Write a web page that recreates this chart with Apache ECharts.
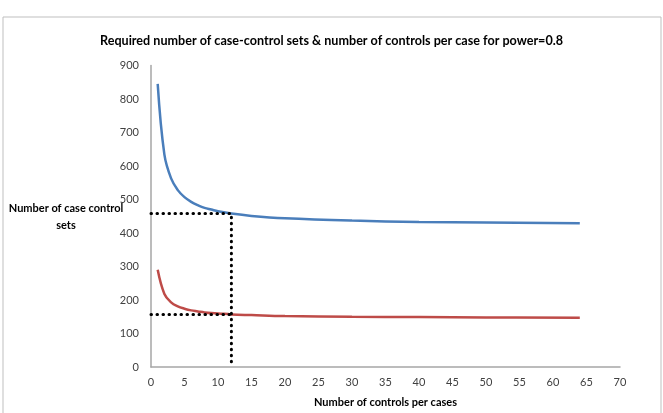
<!DOCTYPE html>
<html>
<head>
<meta charset="utf-8">
<script src="https://cdn.jsdelivr.net/npm/echarts@6/dist/echarts.min.js"></script>
<style>
  html, body { margin: 0; padding: 0; background: #fff; }
  #chart { width: 663px; height: 413px; }
</style>
</head>
<body>
<div id="chart"></div>
<script>
// 데이터
const controlsPerCase = [1, 2, 3, 4, 5, 6, 7, 8, 9, 10, 12, 15, 20, 30, 40, 50, 64];
const upperSets = [845, 634, 563, 528, 507, 493, 483, 475, 470, 465, 458, 451, 444, 437, 433, 431, 429];
const lowerSets = [290, 218, 193, 181, 174, 169, 166, 163, 161, 160, 157, 155, 152, 150, 149, 148, 147];
const xTicks = [0, 5, 10, 15, 20, 25, 30, 35, 40, 45, 50, 55, 60, 65, 70];
const yTicks = [0, 100, 200, 300, 400, 500, 600, 700, 800, 900];
const chosenK = 12;
const chosenUpper = 458;
const chosenLower = 157;

const font = "Lato, 'Open Sans', sans-serif";

function pairs(xs, ys) {
  return xs.map((x, i) => [x, ys[i]]);
}

const dotStyle = { color: "#000", width: 3, type: [0.5, 5.5], cap: "round" };

const chart = echarts.init(document.getElementById("chart"));
chart.setOption({
  animation: false,
  backgroundColor: "#fff",
  title: {
    text: "Required number of case-control sets & number of controls per case for power=0.8",
    left: "center",
    top: 29,
    textStyle: { fontFamily: font, fontWeight: "bold", fontSize: 12.6, color: "#000" },
  },
  graphic: [
    {
      type: "rect",
      shape: { x: 3, y: 17, width: 658, height: 410 },
      style: { fill: "none", stroke: "#bfbfbf", lineWidth: 1 },
      silent: true,
    },
    {
      type: "text",
      x: 66,
      y: 200,
      style: {
        text: "Number of case control\nsets",
        font: "bold 11px " + font,
        fill: "#000",
        align: "center",
        verticalAlign: "top",
        lineHeight: 17,
      },
    },
  ],
  grid: { left: 151, right: 43, top: 65.5, bottom: 46 },
  xAxis: {
    type: "value",
    min: xTicks[0],
    max: xTicks[xTicks.length - 1],
    interval: 5,
    name: "Number of controls per cases",
    nameLocation: "middle",
    nameGap: 30,
    nameTextStyle: { fontFamily: font, fontWeight: "bold", fontSize: 11, color: "#000" },
    axisLine: { lineStyle: { color: "#a6a6a6", width: 1.5 } },
    axisTick: { show: false },
    splitLine: { show: false },
    axisLabel: { margin: 10, fontFamily: font, fontSize: 11, color: "#404040" },
  },
  yAxis: {
    type: "value",
    min: yTicks[0],
    max: yTicks[yTicks.length - 1],
    interval: 100,
    axisLine: { show: true, lineStyle: { color: "#a6a6a6", width: 1.5 } },
    axisTick: { show: false },
    splitLine: { show: false },
    axisLabel: { margin: 12, fontFamily: font, fontSize: 11, color: "#404040" },
  },
  series: [
    {
      type: "line",
      data: pairs(controlsPerCase, upperSets),
      smooth: 0.4,
      showSymbol: false,
      lineStyle: { color: "#4a7ebb", width: 2.5 },
      z: 3,
    },
    {
      type: "line",
      data: pairs(controlsPerCase, lowerSets),
      smooth: 0.4,
      showSymbol: false,
      lineStyle: { color: "#be4b48", width: 2.5 },
      z: 3,
    },
    {
      type: "line",
      data: [[0, chosenUpper], [chosenK, chosenUpper], [chosenK, 0]],
      showSymbol: false,
      lineStyle: dotStyle,
      z: 4,
    },
    {
      type: "line",
      data: [[0, chosenLower], [chosenK, chosenLower]],
      showSymbol: false,
      lineStyle: dotStyle,
      z: 4,
    },
  ],
});
</script>
</body>
</html>
